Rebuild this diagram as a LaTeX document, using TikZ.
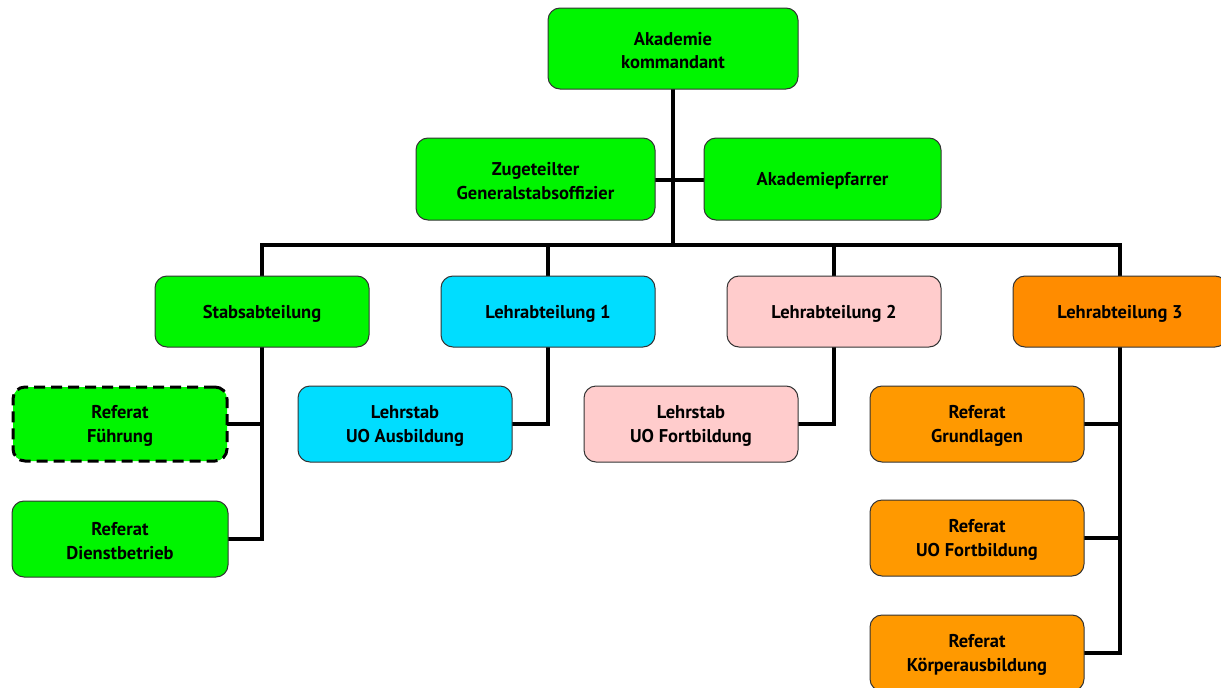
\documentclass[tikz,border=0pt]{standalone}
\usepackage{fontspec}
\setmainfont{PT Sans}
\definecolor{cgreen}{HTML}{00F500}
\definecolor{ccyan}{HTML}{00DDFF}
\definecolor{cpink}{HTML}{FFCCCC}
\definecolor{corange}{HTML}{FF8C00}
\definecolor{corange2}{HTML}{FF9900}
\begin{document}
\begin{tikzpicture}[x=1pt,y=-1pt,
  box/.style={draw=black!80,line width=1pt,rounded corners=12pt,inner sep=0pt},
  lbl/.style={align=center,font=\fontsize{18.5}{23.5}\selectfont\bfseries,inner sep=0pt},
  conn/.style={line width=3.3pt,line cap=rect}]
\useasboundingbox (0,0) rectangle (1221,688);
\newcommand\bx[7]{% name x1 y1 x2 y2 fill text
  \node[box,fill=#6,minimum width=#4pt-#2pt,minimum height=#5pt-#3pt] (#1) at ({(#2+#4)/2},{(#3+#5)/2}) {};
  \node[lbl] (#1t) at ([yshift=-2pt]#1.center) {#7};}
\coordinate (hl) at (262,245);
\coordinate (hr) at (1120,245);
\coordinate (hm) at (673,245);
\draw[conn] (673,89) -- (hm);
\draw[conn] (hl) -- (hr);
\draw[conn] (655,180) -- (704,180);
\draw[conn] (hl) -- (262,276);
\draw[conn] (548,245) -- (548,276);
\draw[conn] (834,245) -- (834,276);
\draw[conn] (hr) -- (1120,276);
\draw[conn] (262,347) -- (262,539) -- (228,539);
\draw[conn] (262,424) -- (228,424);
\draw[conn] (548,347) -- (548,424) -- (512,424);
\draw[conn] (834,347) -- (834,424) -- (798,424);
\draw[conn] (1120,347) -- (1120,653) -- (1084,653);
\draw[conn] (1120,424) -- (1084,424);
\draw[conn] (1120,538) -- (1084,538);
\begin{scope}
\clip (0,0) rectangle (1221,688);
\bx{kdt}{548}{8}{798}{89}{cgreen}{Akademie\\kommandant}
\bx{zug}{416}{138}{655}{220}{cgreen}{Zugeteilter\\Generalstabsoffizier}
\bx{pf}{704}{138}{941}{220}{cgreen}{Akademiepfarrer}
\bx{stab}{155}{276}{369}{347}{cgreen}{Stabsabteilung}
\bx{la1}{441}{276}{655}{347}{ccyan}{Lehrabteilung 1}
\bx{la2}{727}{276}{941}{347}{cpink}{Lehrabteilung 2}
\bx{la3}{1013}{276}{1227}{347}{corange}{Lehrabteilung 3}
\node[box,fill=cgreen,draw=black,dash pattern=on 11pt off 6pt,line width=3pt,minimum width=214pt,minimum height=74pt] (fue) at (120,424) {};
\node[lbl] (fuet) at ([yshift=-2pt]fue.center) {Referat\\Führung};
\bx{db}{12}{501}{228}{577}{cgreen}{Referat\\Dienstbetrieb}
\bx{lsa}{298}{386}{512}{462}{ccyan}{Lehrstab\\UO Ausbildung}
\bx{lsf}{584}{386}{798}{462}{cpink}{Lehrstab\\UO Fortbildung}
\bx{gr}{870}{386}{1084}{462}{corange2}{Referat\\Grundlagen}
\bx{uof}{870}{500}{1084}{576}{corange2}{Referat\\UO Fortbildung}
\bx{koe}{870}{615}{1084}{691}{corange2}{Referat\\Körperausbildung}
\end{scope}
\end{tikzpicture}
\end{document}
